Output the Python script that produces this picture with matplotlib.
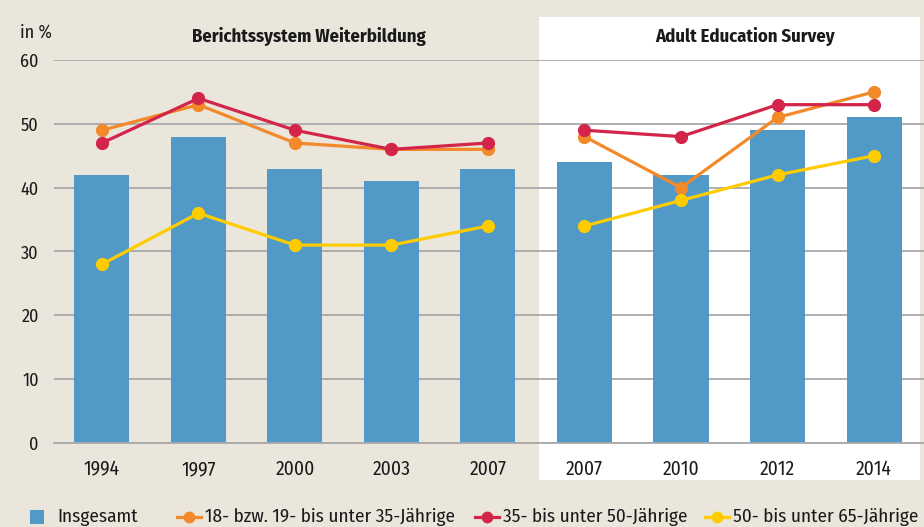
import numpy as np
import matplotlib.pyplot as plt
from matplotlib import font_manager as fm
from matplotlib import transforms
from matplotlib.patches import Rectangle
from matplotlib.lines import Line2D

installed = {f.name for f in fm.fontManager.ttflist}
narrow = [n for n in ('Fira Sans Condensed', 'PT Sans Narrow', 'Roboto Condensed')
          if n in installed]
plt.rcParams['font.family'] = narrow[:1] + ['DejaVu Sans']

years = ['1994', '1997', '2000', '2003', '2007', '2007', '2010', '2012', '2014']
insgesamt = [42, 48, 43, 41, 43, 44, 42, 49, 51]
age_18_35 = [49, 53, 47, 46, 46, 48, 40, 51, 55]
age_35_50 = [47, 54, 49, 46, 47, 49, 48, 53, 53]
age_50_65 = [28, 36, 31, 31, 34, 34, 38, 42, 45]

bg = '#eae6dc'
c_bar = '#5199c6'
c_orange = '#f28a2a'
c_red = '#d3254a'
c_yellow = '#ffcc00'
c_text = '#1a1a1a'

fig = plt.figure(figsize=(9.24, 5.27), dpi=100, facecolor=bg)
W, H = 924, 527

# white panel behind the AES survey years
fig.add_artist(Rectangle((539 / W, 1 - 480 / H), (920 - 539) / W, (480 - 17) / H,
                         transform=fig.transFigure, facecolor='white',
                         edgecolor='none', zorder=0))

ax = fig.add_axes([54 / W, 1 - 443 / H, (924 - 54) / W, (443 - 60) / H])
ax.set_facecolor('none')
ax.set_zorder(1)

x = np.arange(len(years))
ax.bar(x, insgesamt, width=0.57, color=c_bar, zorder=2)

# the two survey series are not connected
for seg in (slice(0, 5), slice(5, 9)):
    for vals, col in ((age_18_35, c_orange), (age_35_50, c_red), (age_50_65, c_yellow)):
        ax.plot(x[seg], vals[seg], color=col, lw=2.3, marker='o', ms=8.5, zorder=3)

ax.set_xlim(-0.497, 8.518)
ax.set_ylim(0, 60)
ax.set_yticks(range(0, 61, 10))
ax.yaxis.grid(True, color='#a9a9ab', lw=1.3)
ax.set_axisbelow(True)
for s in ('top', 'right', 'left'):
    ax.spines[s].set_visible(False)
ax.spines['bottom'].set_color('#a9a9ab')
ax.spines['bottom'].set_linewidth(1.3)
ax.set_xticks([])
ax.tick_params(axis='y', length=0, labelsize=13, colors=c_text, pad=11)

# year labels on a common baseline
xlab = transforms.blended_transform_factory(ax.transData, fig.transFigure)
for xi, yr in zip(x, years):
    ax.text(xi, 1 - 475 / H, yr, transform=xlab, ha='center', va='baseline',
            fontsize=14, color=c_text)

fig.text(20 / W, 1 - 33 / H, 'in %', fontsize=13, va='center', color=c_text)
fig.text(309 / W, 1 - 37 / H, 'Berichtssystem Weiterbildung', fontsize=13.4,
         fontweight='bold', ha='center', va='center', color=c_text)
fig.text(745 / W, 1 - 37 / H, 'Adult Education Survey', fontsize=13.4,
         fontweight='bold', ha='center', va='center', color=c_text)

# legend along the bottom
ly = 1 - 517 / H
fig.add_artist(Rectangle((30 / W, 1 - 524 / H), 14 / W, 14 / H,
                         transform=fig.transFigure, facecolor=c_bar, edgecolor='none'))
fig.text(57 / W, ly, 'Insgesamt', fontsize=13.8, va='center', color=c_text)
legend_items = [
    (177, c_orange, '18- bzw. 19- bis unter 35-Jährige'),
    (475, c_red, '35- bis unter 50-Jährige'),
    (705, c_yellow, '50- bis unter 65-Jährige'),
]
for x0, col, txt in legend_items:
    fig.add_artist(Line2D([x0 / W, (x0 + 24) / W], [ly, ly], transform=fig.transFigure,
                          color=col, lw=2.3))
    fig.add_artist(Line2D([(x0 + 12) / W], [ly], transform=fig.transFigure,
                          color=col, marker='o', ms=7.5))
    fig.text((x0 + 28) / W, ly, txt, fontsize=13.8, va='center', color=c_text)

fig.savefig('out.png', dpi=100, facecolor=bg)
